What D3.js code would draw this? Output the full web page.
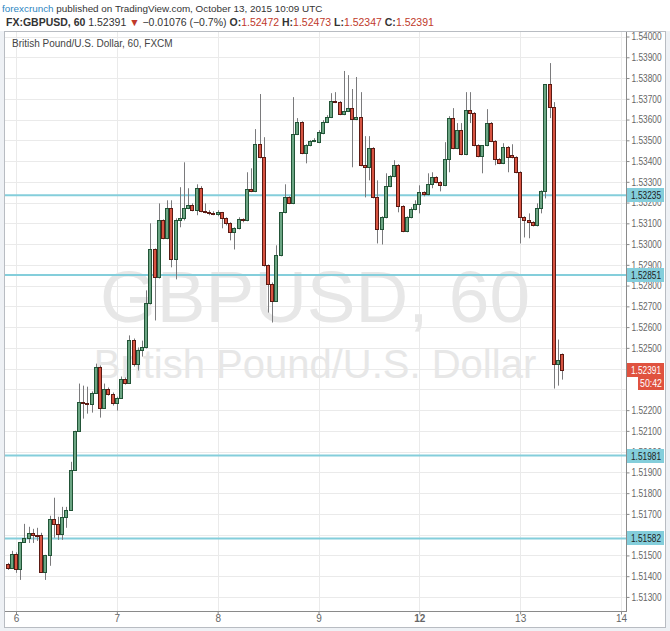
<!DOCTYPE html>
<html><head><meta charset="utf-8">
<script src="https://cdn.jsdelivr.net/npm/d3@7"></script>
<style>body{margin:0;background:#fff}svg{display:block}</style>
</head><body>
<svg id="c" width="670" height="631"></svg>
<script>
// ---- data (hourly candles, index 0 = Oct 6 00:00) ----
const firstIndex = -2;
const open = [
1.51459,1.51440,1.51507,1.51435,1.51565,1.51585,1.51609,1.51599,1.51597,1.51421,
1.51503,1.51676,1.51652,1.51604,1.51686,1.51720,1.51913,1.52101,1.52241,1.52236,
1.52231,1.52284,1.52410,1.52212,1.52304,1.52280,1.52236,1.52260,1.52352,1.52333,
1.52540,1.52420,1.52492,1.52502,1.52714,1.52974,1.52839,1.53114,1.53028,1.53172,
1.52926,1.53114,1.53124,1.53172,1.53187,1.53163,1.53269,1.53158,1.53153,1.53148,
1.53143,1.53153,1.53124,1.53100,1.53057,1.53076,1.53119,1.53114,1.53264,1.53254,
1.53481,1.53418,1.52897,1.52810,1.52728,1.52946,1.53153,1.53225,1.53196,1.53529,
1.53587,1.53438,1.53476,1.53496,1.53491,1.53534,1.53587,1.53612,1.53689,1.53684,
1.53626,1.53640,1.53655,1.53602,1.53612,1.53380,1.53370,1.53462,1.53225,1.53071,
1.53129,1.53279,1.53327,1.53380,1.53182,1.53061,1.53129,1.53168,1.53192,1.53250,
1.53240,1.53288,1.53322,1.53298,1.53283,1.53409,1.53607,1.53462,1.53549,1.53433,
1.53645,1.53631,1.53476,1.53423,1.53476,1.53583,1.53496,1.53409,1.53390,1.53467,
1.53428,1.53418,1.53346,1.53129,1.53114,1.53105,1.53090,1.53172,1.53254,1.53771,
1.53660,1.52424,1.52472];
const high = [
1.51464,1.51522,1.51515,1.51565,1.51652,1.51638,1.51628,1.51633,1.51609,1.51503,
1.51691,1.51778,1.51686,1.51734,1.51734,1.51951,1.52101,1.52328,1.52318,1.52313,
1.52290,1.52424,1.52415,1.52328,1.52309,1.52285,1.52265,1.52362,1.52357,1.52560,
1.52545,1.52502,1.52535,1.52777,1.53100,1.52979,1.53196,1.53119,1.53211,1.53211,
1.53124,1.53274,1.53394,1.53269,1.53196,1.53288,1.53279,1.53196,1.53163,1.53158,
1.53163,1.53155,1.53129,1.53105,1.53081,1.53129,1.53124,1.53346,1.53365,1.53554,
1.53723,1.53515,1.52902,1.52815,1.52994,1.53153,1.53288,1.53230,1.53708,1.53607,
1.53592,1.53481,1.53501,1.53510,1.53549,1.53597,1.53621,1.53727,1.53732,1.53689,
1.53834,1.53814,1.53747,1.53805,1.53732,1.53520,1.53520,1.53467,1.53307,1.53134,
1.53341,1.53332,1.53404,1.53385,1.53187,1.53134,1.53177,1.53211,1.53283,1.53254,
1.53341,1.53346,1.53327,1.53303,1.53491,1.53616,1.53655,1.53583,1.53583,1.53732,
1.53732,1.53636,1.53481,1.53476,1.53650,1.53588,1.53501,1.53414,1.53486,1.53472,
1.53481,1.53423,1.53351,1.53134,1.53148,1.53110,1.53196,1.53259,1.53771,1.53872,
1.53684,1.52540,1.52473];
const low = [
1.51430,1.51435,1.51416,1.51382,1.51560,1.51560,1.51560,1.51570,1.51416,1.51382,
1.51450,1.51585,1.51575,1.51575,1.51633,1.51715,1.51908,1.52096,1.52159,1.52183,
1.52188,1.52280,1.52164,1.52207,1.52270,1.52222,1.52198,1.52255,1.52323,1.52328,
1.52410,1.52391,1.52458,1.52497,1.52709,1.52632,1.52834,1.53023,1.53023,1.52888,
1.52830,1.53081,1.53114,1.53168,1.53158,1.53139,1.53153,1.53148,1.53139,1.53139,
1.53134,1.53076,1.53090,1.53018,1.52974,1.53071,1.53105,1.53110,1.53250,1.53250,
1.53413,1.52892,1.52670,1.52622,1.52723,1.52941,1.53148,1.53192,1.53192,1.53525,
1.53433,1.53389,1.53471,1.53491,1.53486,1.53529,1.53583,1.53607,1.53679,1.53621,
1.53621,1.53636,1.53370,1.53597,1.53375,1.53225,1.53307,1.53220,1.53003,1.52998,
1.53124,1.53274,1.53322,1.53153,1.53057,1.53057,1.53124,1.53163,1.53148,1.53230,
1.53235,1.53269,1.53293,1.53254,1.53279,1.53346,1.53457,1.53457,1.53428,1.53428,
1.53583,1.53471,1.53418,1.53341,1.53471,1.53491,1.53380,1.53385,1.53385,1.53346,
1.53413,1.53341,1.53003,1.53032,1.53028,1.53085,1.53085,1.53148,1.53220,1.53607,
1.52304,1.52318,1.52347];
const close = [
1.51440,1.51507,1.51435,1.51565,1.51585,1.51609,1.51599,1.51597,1.51421,1.51503,
1.51676,1.51652,1.51604,1.51686,1.51720,1.51913,1.52101,1.52241,1.52236,1.52231,
1.52284,1.52410,1.52212,1.52304,1.52280,1.52236,1.52260,1.52352,1.52333,1.52540,
1.52420,1.52492,1.52502,1.52714,1.52974,1.52839,1.53114,1.53028,1.53172,1.52926,
1.53114,1.53124,1.53172,1.53187,1.53163,1.53269,1.53158,1.53153,1.53148,1.53143,
1.53153,1.53124,1.53100,1.53057,1.53076,1.53119,1.53114,1.53264,1.53254,1.53481,
1.53418,1.52897,1.52810,1.52728,1.52946,1.53153,1.53225,1.53196,1.53529,1.53587,
1.53438,1.53476,1.53496,1.53501,1.53539,1.53587,1.53612,1.53689,1.53684,1.53626,
1.53640,1.53655,1.53602,1.53612,1.53380,1.53370,1.53462,1.53225,1.53071,1.53129,
1.53279,1.53327,1.53380,1.53182,1.53061,1.53129,1.53168,1.53192,1.53250,1.53240,
1.53288,1.53322,1.53298,1.53283,1.53409,1.53607,1.53462,1.53549,1.53433,1.53645,
1.53631,1.53476,1.53423,1.53476,1.53583,1.53496,1.53409,1.53390,1.53467,1.53418,
1.53418,1.53346,1.53129,1.53114,1.53105,1.53090,1.53172,1.53254,1.53771,1.53660,
1.52424,1.52443,1.52391];
const dayIndex = [0, 24, 48, 72, 96, 120, 144];
const dayLabels = ["6", "7", "8", "9", "12", "13", "14"];
const boldDays = ["12"];
const yTickValues = [1.513,1.514,1.515,1.516,1.517,1.518,1.519,1.520,1.521,1.522,1.525,1.526,1.527,1.528,1.529,1.530,1.531,1.532,1.533,1.534,1.535,1.536,1.537,1.538,1.539,1.540];
const levels = [1.53235, 1.52851, 1.51981, 1.51582];
const lastPrice = 1.52391;
const countdown = "50:42";

// ---- layout ----
const svg = d3.select("#c");
const W = 670, H = 631;
const box = {l: 4, t: 31, r: 666, b: 628};
const plot = {l: 5, t: 32, r: 626, b: 611};
const font = "'Liberation Sans', Arial, sans-serif";
const fmt = d3.format(".5f");

svg.append("rect").attr("width", W).attr("height", H).attr("fill", "#eef1f5");
svg.append("rect").attr("width", W).attr("height", box.t).attr("fill", "#ffffff");
svg.append("rect").attr("x", box.l + 0.5).attr("y", box.t + 0.5)
  .attr("width", box.r - box.l - 1).attr("height", box.b - box.t - 1)
  .attr("fill", "#fff").attr("stroke", "#b8bcc2");

const x = d3.scaleLinear().domain([0, 144]).range([16, 621]);
const y = d3.scaleLinear().domain([1.512322, 1.540218]).range([plot.b, plot.t]);

const g = svg.append("g");
svg.append("clipPath").attr("id", "pc").append("rect")
  .attr("x", plot.l).attr("y", plot.t).attr("width", plot.r - plot.l).attr("height", plot.b - plot.t);

// grid
const gridVals = [1.513,1.514,1.515,1.516,1.517,1.518,1.519,1.520,1.521,1.522,1.523,1.524,1.525,1.526,1.527,1.528,1.529,1.530,1.531,1.532,1.533,1.534,1.535,1.536,1.537,1.538,1.539,1.540];
g.append("g").selectAll("line").data(gridVals).join("line")
  .attr("x1", plot.l).attr("x2", plot.r)
  .attr("y1", d => Math.round(y(d)) + 0.5).attr("y2", d => Math.round(y(d)) + 0.5)
  .attr("stroke", "#eaeaea");
g.append("g").selectAll("line").data(dayIndex).join("line")
  .attr("x1", d => Math.round(x(d)) + 0.5).attr("x2", d => Math.round(x(d)) + 0.5)
  .attr("y1", plot.t).attr("y2", plot.b)
  .attr("stroke", "#eaeaea");

// watermark
g.append("text").attr("x", 315).attr("y", 322).attr("text-anchor", "middle")
  .attr("font-family", font).attr("font-size", 73).attr("fill", "#e7e7e7")
  .text("GBPUSD, 60");
g.append("text").attr("x", 315).attr("y", 378).attr("text-anchor", "middle")
  .attr("font-family", font).attr("font-size", 40).attr("fill", "#e7e7e7")
  .text("British Pound/U.S. Dollar");

// level lines
g.append("g").selectAll("line").data(levels).join("line")
  .attr("x1", plot.l).attr("x2", plot.r)
  .attr("y1", d => y(d)).attr("y2", d => y(d))
  .attr("stroke", "#84cedb").attr("stroke-width", 2);

// candles
const candles = open.map((o, k) => ({i: firstIndex + k, o, h: high[k], l: low[k], c: close[k]}));
const cg = g.append("g").attr("clip-path", "url(#pc)");
cg.selectAll("line.w").data(candles).join("line").attr("class", "w")
  .attr("x1", d => Math.round(x(d.i)) + 0.5).attr("x2", d => Math.round(x(d.i)) + 0.5)
  .attr("y1", d => y(d.h)).attr("y2", d => y(d.l))
  .attr("stroke", "#7a7a7c").attr("stroke-width", 1);
cg.selectAll("rect.b").data(candles).join("rect").attr("class", "b")
  .attr("x", d => Math.round(x(d.i)) - 1.5)
  .attr("width", 3)
  .attr("y", d => Math.round(y(Math.max(d.o, d.c))) + 0.5)
  .attr("height", d => Math.max(1, Math.round(y(Math.min(d.o, d.c))) - Math.round(y(Math.max(d.o, d.c)))))
  .attr("fill", d => d.c >= d.o ? "#6ba583" : "#d75442")
  .attr("stroke", d => d.c >= d.o ? "#225437" : "#5b1a13")
  .attr("stroke-width", 1);

// axes frame
svg.append("line").attr("x1", plot.r + 0.5).attr("x2", plot.r + 0.5).attr("y1", plot.t).attr("y2", plot.b + 1)
  .attr("stroke", "#8a8a8a");
svg.append("line").attr("x1", plot.l).attr("x2", plot.r + 1).attr("y1", plot.b + 0.5).attr("y2", plot.b + 0.5)
  .attr("stroke", "#8a8a8a");

// right axis
const ya = d3.axisRight(y).tickValues(yTickValues).tickFormat(fmt).tickSize(3).tickPadding(2);
const yag = svg.append("g").attr("transform", `translate(${plot.r + 0.5},0)`).call(ya);
yag.select(".domain").remove();
yag.selectAll("line").attr("stroke", "#8a8a8a");
yag.selectAll("text").attr("font-family", font).attr("font-size", 10.5).attr("fill", "#666")
  .attr("textLength", 30).attr("lengthAdjust", "spacingAndGlyphs");

// bottom axis
const xa = d3.axisBottom(x).tickValues(dayIndex).tickFormat((d, k) => dayLabels[k]).tickSize(3).tickPadding(0);
const xag = svg.append("g").attr("transform", `translate(0,${plot.b + 0.5})`).call(xa);
xag.select(".domain").remove();
xag.selectAll("line").attr("stroke", "#8a8a8a");
xag.selectAll("text").attr("font-family", font).attr("font-size", 10).attr("fill", "#666")
  .attr("font-weight", (d, k) => boldDays.includes(dayLabels[k]) ? "bold" : null);

// level tags
const lt = svg.append("g").selectAll("g").data(levels).join("g")
  .attr("transform", d => `translate(${plot.r + 1},${Math.round(y(d))})`);
lt.append("rect").attr("x", 0).attr("y", -7).attr("width", 37).attr("height", 14).attr("fill", "#84cedb");
lt.append("text").attr("x", 4).attr("y", 0).attr("dy", "0.35em").attr("font-family", font)
  .attr("font-size", 10.5).attr("fill", "#1e1e1e").attr("textLength", 30).attr("lengthAdjust", "spacingAndGlyphs")
  .text(d => fmt(d));

// last price tag
const lp = svg.append("g").attr("transform", `translate(${plot.r + 1},${Math.round(y(lastPrice))})`);
lp.append("rect").attr("x", 0).attr("y", -7).attr("width", 37).attr("height", 14).attr("fill", "#e0523f");
lp.append("text").attr("x", 4).attr("y", 0).attr("dy", "0.35em").attr("font-family", font)
  .attr("font-size", 10.5).attr("fill", "#fff").attr("textLength", 30).attr("lengthAdjust", "spacingAndGlyphs")
  .text(fmt(lastPrice));
lp.append("rect").attr("x", 11).attr("y", 7).attr("width", 26).attr("height", 13).attr("fill", "#e0523f");
lp.append("text").attr("x", 13).attr("y", 13.5).attr("dy", "0.35em").attr("font-family", font)
  .attr("font-size", 10.5).attr("fill", "#fff").attr("textLength", 22).attr("lengthAdjust", "spacingAndGlyphs")
  .text(countdown);

// chart title
svg.append("text").attr("x", 12).attr("y", 47).attr("font-family", font).attr("font-size", 10)
  .attr("fill", "#444").text("British Pound/U.S. Dollar, 60, FXCM");

// header
const h1 = svg.append("text").attr("x", 2).attr("y", 12).attr("font-family", font).attr("font-size", 9.9).attr("fill", "#333");
h1.append("tspan").attr("fill", "#2e86c1").text("forexcrunch");
h1.append("tspan").text(" published on TradingView.com, October 13, 2015 10:09 UTC");
const h2 = svg.append("text").attr("x", 6).attr("y", 26).attr("font-family", font).attr("font-size", 10.5).attr("fill", "#333");
h2.append("tspan").attr("font-weight", "bold").text("FX:GBPUSD, 60");
h2.append("tspan").text(" 1.52391 ");
h2.append("tspan").attr("fill", "#c0392b").text("▼");
h2.append("tspan").text(" \u22120.01076 (\u22120.7%) ");
h2.append("tspan").attr("font-weight", "bold").text("O:");
h2.append("tspan").attr("fill", "#c0392b").text("1.52472 ");
h2.append("tspan").attr("font-weight", "bold").text("H:");
h2.append("tspan").attr("fill", "#c0392b").text("1.52473 ");
h2.append("tspan").attr("font-weight", "bold").text("L:");
h2.append("tspan").attr("fill", "#c0392b").text("1.52347 ");
h2.append("tspan").attr("font-weight", "bold").text("C:");
h2.append("tspan").attr("fill", "#c0392b").text("1.52391");
</script>
</body></html>
